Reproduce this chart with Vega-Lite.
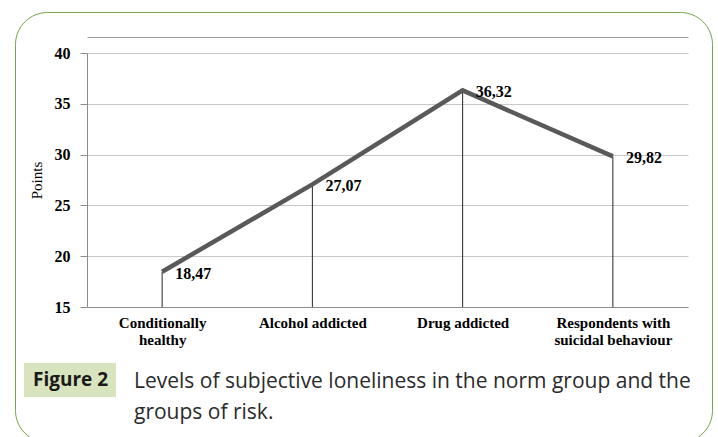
{
  "$schema": "https://vega.github.io/schema/vega-lite/v6.json",
  "width": 601,
  "height": 254,
  "autosize": {"type": "none"},
  "padding": {"left": 87, "top": 53, "right": 30, "bottom": 130},
  "background": "white",
  "config": {
    "locale": {"number": {"decimal": ",", "thousands": ".", "grouping": [3], "currency": ["", ""]}},
    "view": {"stroke": null},
    "font": "Liberation Serif"
  },
  "title": {
    "text": ["Levels of subjective loneliness in the norm group and the", "groups of risk."],
    "orient": "bottom",
    "anchor": "start",
    "frame": "group",
    "offset": -72,
    "dx": 47,
    "font": "Open Sans",
    "fontSize": 21,
    "fontWeight": "normal",
    "color": "#2b2b2b",
    "lineHeight": 31
  },
  "data": {
    "values": [
      {"group": "Conditionally healthy", "value": 18.47},
      {"group": "Alcohol addicted", "value": 27.07},
      {"group": "Drug addicted", "value": 36.32},
      {"group": "Respondents with suicidal behaviour", "value": 29.82}
    ]
  },
  "encoding": {
    "y": {
      "field": "value",
      "type": "quantitative",
      "scale": {"domain": [15, 40], "nice": false, "zero": false},
      "axis": {
        "values": [15, 20, 25, 30, 35, 40],
        "grid": true,
        "gridColor": "#c8c8c8",
        "domainColor": "#8c8c8c",
        "tickColor": "#8c8c8c",
        "tickSize": 7,
        "labelFont": "Liberation Serif",
        "labelFontSize": 16,
        "labelFontWeight": "bold",
        "labelColor": "#000000",
        "labelPadding": 10,
        "title": "Points",
        "titleFont": "Liberation Serif",
        "titleFontSize": 15,
        "titleFontWeight": "normal",
        "titleColor": "#000000",
        "titlePadding": 10
      }
    }
  },
  "layer": [
    {
      "mark": {"type": "rule", "strokeWidth": 1},
      "encoding": {
        "x": {
          "field": "group",
          "type": "nominal",
          "sort": null,
          "scale": {"type": "point", "padding": 0.5},
          "axis": {"orient": "top", "labels": false, "ticks": false, "title": null, "domainColor": "#9a9a9a", "offset": 16, "grid": false}
        },
        "y2": {"datum": 15},
        "stroke": {
          "datum": "Figure 2",
          "type": "nominal",
          "scale": {"range": ["#262626"]},
          "legend": {
            "orient": "none",
            "legendX": -63,
            "legendY": 310,
            "title": null,
            "fillColor": "#d7e4bd",
            "padding": 7,
            "labelFont": "Open Sans",
            "labelFontSize": 19,
            "labelFontWeight": "bold",
            "labelColor": "#1a1a1a",
            "symbolType": "circle",
            "symbolSize": 0,
            "symbolOpacity": 0,
            "symbolStrokeWidth": 0,
            "labelOffset": -17
          }
        }
      }
    },
    {
      "mark": {"type": "line", "color": "#595959", "strokeWidth": 4.5},
      "encoding": {
        "x": {
          "field": "group",
          "type": "nominal",
          "sort": null,
          "scale": {"type": "point", "padding": 0.5},
          "axis": {
            "orient": "bottom",
            "title": null,
            "labelAngle": 0,
            "ticks": false,
            "grid": false,
            "domainColor": "#8c8c8c",
            "labelFont": "Liberation Serif",
            "labelFontSize": 15,
            "labelFontWeight": "bold",
            "labelColor": "#000000",
            "labelPadding": 8,
            "labelLineHeight": 17,
            "labelLimit": 0,
            "labelExpr": "datum.value == 'Conditionally healthy' ? ['Conditionally', 'healthy'] : datum.value == 'Respondents with suicidal behaviour' ? ['Respondents with', 'suicidal behaviour'] : datum.value"
          }
        }
      }
    },
    {
      "mark": {"type": "text", "align": "left", "baseline": "middle", "dx": 13, "dy": 2, "fontWeight": "bold", "fontSize": 16, "font": "Liberation Serif"},
      "encoding": {
        "x": {"field": "group", "type": "nominal", "sort": null, "scale": {"type": "point", "padding": 0.5}, "axis": null},
        "text": {"field": "value", "type": "quantitative", "format": ".2f"},
        "fill": {
          "field": "value",
          "type": "quantitative",
          "scale": {"range": ["#000000", "#000000"]},
          "legend": {
            "orient": "none",
            "legendX": -72,
            "legendY": -41,
            "direction": "horizontal",
            "gradientLength": 697,
            "gradientThickness": 430,
            "gradientOpacity": 0,
            "gradientStrokeWidth": 0,
            "values": [],
            "labelOpacity": 0,
            "title": null,
            "strokeColor": "#77a543",
            "cornerRadius": 32,
            "padding": 0
          }
        }
      }
    }
  ],
  "resolve": {"axis": {"x": "independent"}}
}
